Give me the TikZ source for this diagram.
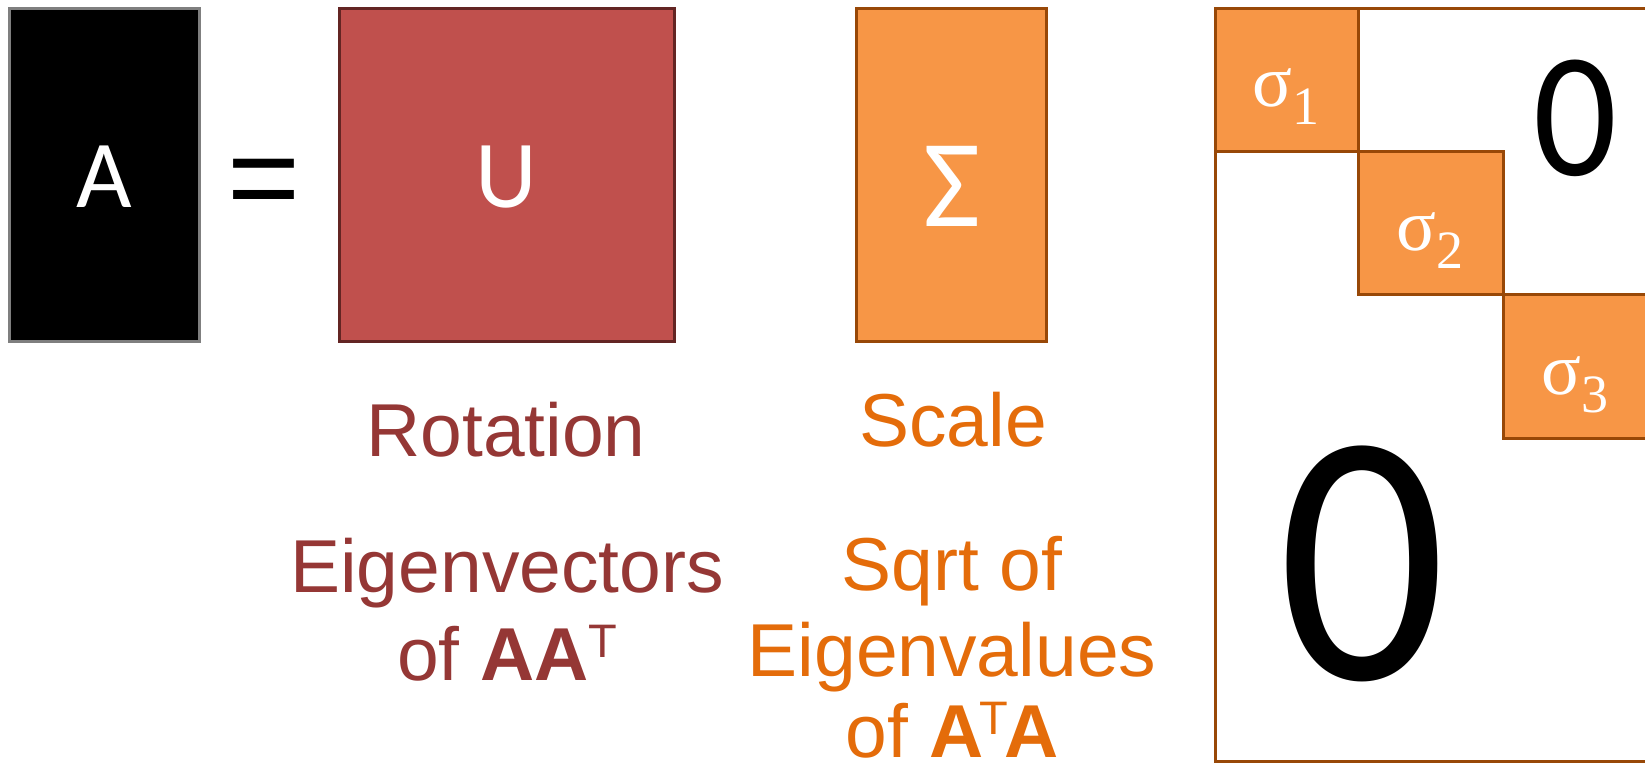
\documentclass[tikz,border=0pt]{standalone}
\usepackage{fontspec}
\setmainfont{Liberation Sans}
\newfontfamily\calib{Carlito}
\newfontfamily\serifg{Liberation Serif}
\definecolor{ured}{HTML}{C0504D}
\definecolor{uredb}{HTML}{632523}
\definecolor{sorange}{HTML}{F79646}
\definecolor{sorangeb}{HTML}{984807}
\definecolor{rottext}{HTML}{953735}
\definecolor{scaletext}{HTML}{E46C0A}
\definecolor{agray}{HTML}{7F7F7F}
\begin{document}
\begin{tikzpicture}[x=1pt,y=-1pt,
  mbox/.style={line width=3pt, inner sep=0pt, outer sep=0pt},
  cell/.style={mbox, draw=sorangeb, fill=sorange, anchor=north west},
  big/.style={text=white, inner sep=0pt, anchor=base, font=\calib\fontsize{96}{96}\selectfont},
  sig/.style={text=white, inner sep=0pt, anchor=base west, font=\serifg\fontsize{74}{74}\selectfont},
  rot/.style={text=rottext, inner sep=0pt, anchor=base, font=\fontsize{75}{90}\selectfont},
  scl/.style={text=scaletext, inner sep=0pt, anchor=base, font=\fontsize{75}{90}\selectfont},
  zero/.style={text=black, inner sep=0pt, anchor=base}]
\useasboundingbox (0,0) rectangle (1645,772);
\clip (0,0) rectangle (1645,772);
% left boxes
\node[mbox, fill=black, draw=agray, minimum width=190pt, minimum height=333pt] (boxA) at (104.5,175) {};
\node[big] (tA) at (104.5,207) {A};
\node[inner sep=0pt, anchor=base, font=\fontsize{125}{125}\selectfont] (eq) at (263.5,220) {=};
\node[mbox, fill=ured, draw=uredb, minimum width=335pt, minimum height=333pt] (boxU) at (506.5,175) {};
\node[big] (tU) at (506.5,207) {U};
\node[mbox, fill=sorange, draw=sorangeb, minimum width=190pt, minimum height=333pt] (boxS) at (951,175) {};
\node[big, font=\calib\fontsize{125}{125}\selectfont] (tS) at (952,226) {Σ};
% matrix
\node[mbox, draw=sorangeb, fill=white, anchor=north west, minimum width=720pt, minimum height=753pt] (mat) at (1215.5,8.5) {};
\node[cell, minimum width=142.5pt, minimum height=142.5pt] (c1) at (1215.5,8.5) {};
\node[cell, minimum width=145pt, minimum height=143.5pt] (c2) at (1358,151) {};
\node[cell, minimum width=145pt, minimum height=143.5pt] (c3) at (1503,294.5) {};
\node[sig] (s1) at (1252,106) {σ\raisebox{-18pt}{\fontsize{54}{54}\selectfont 1}};
\node[sig] (s2) at (1396,250) {σ\raisebox{-18pt}{\fontsize{54}{54}\selectfont 2}};
\node[sig] (s3) at (1541,394) {σ\raisebox{-18pt}{\fontsize{54}{54}\selectfont 3}};
\node[zero, font=\calib\fontsize{178}{178}\selectfont] (z1) at (1575,175) {\scalebox{0.93}[1]{0}};
\node[zero, font=\calib\fontsize{360}{360}\selectfont] (z2) at (1362,679) {\scalebox{0.92}[1]{0}};
% labels
\node[rot] (rotation) at (506,456) {Rotation};
\node[rot] (eigvec) at (507,592) {Eigenvectors};
\node[rot] (ofaat) at (507,680) {of \textbf{AA}\kern-1pt\raisebox{23pt}{\fontsize{47}{47}\selectfont T}};
\node[scl] (scale) at (953,446) {Scale};
\node[scl] (sqrtof) at (952,590) {Sqrt of};
\node[scl] (eigval) at (952,676) {Eigenvalues};
\node[scl] (ofata) at (952,757) {of \textbf{A}\kern-4pt\raisebox{23pt}{\fontsize{47}{47}\selectfont T}\kern-4pt\textbf{A}};
\end{tikzpicture}
\end{document}
